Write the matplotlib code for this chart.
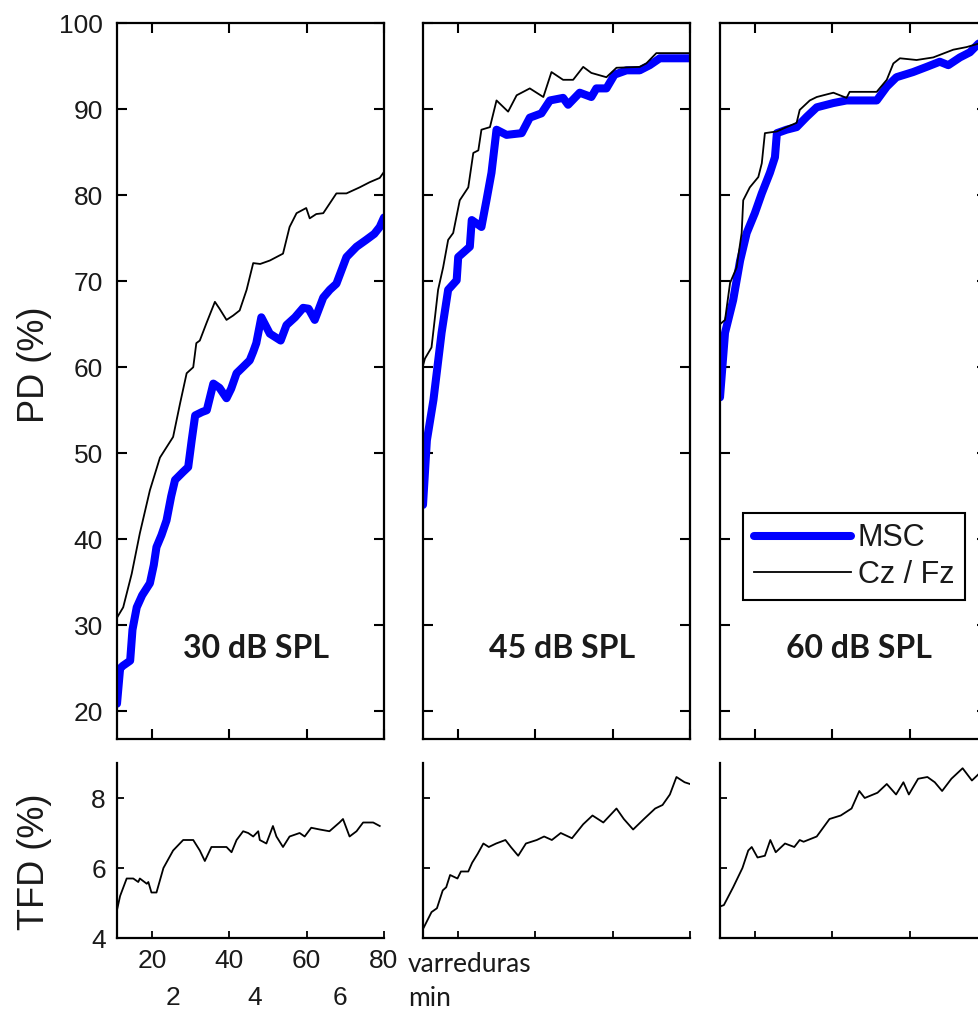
import matplotlib
matplotlib.use("Agg")
import matplotlib.pyplot as plt
from matplotlib.lines import Line2D
from matplotlib.transforms import blended_transform_factory

# ---------------- data ----------------
levels = ["30 dB SPL", "45 dB SPL", "60 dB SPL"]
series_labels = ["MSC", "Cz / Fz"]

# Detection probability (%) vs. number of sweeps
msc_x_30 = [11, 11.8, 12.5, 14.4, 15.0, 16.1, 17.5, 19.5, 20.5, 21.2, 22.5, 23.8, 25.0, 26.0, 28.0,
            29.4, 30.3, 31.2, 33.0, 34.2, 35.9, 37.5, 39.3, 40.5, 41.9, 43.5, 45.3, 46.2, 47.0, 48.3,
            50.5, 53.3, 54.8, 57.0, 59.1, 60.5, 62.1, 64.3, 66.0, 67.7, 70.3, 72.9, 75.4, 77.5, 78.9, 80]
msc_y_30 = [20.9, 25.0, 25.3, 25.9, 29.5, 32.1, 33.5, 34.9, 37.0, 39.1, 40.5, 42.2, 45.0, 46.9, 47.8,
            48.4, 51.5, 54.4, 54.8, 55.0, 58.1, 57.6, 56.4, 57.5, 59.3, 60.0, 60.8, 61.8, 62.8, 65.8,
            63.9, 63.1, 64.9, 65.8, 66.9, 66.8, 65.5, 68.1, 69.0, 69.7, 72.8, 74.0, 74.8, 75.5, 76.3, 77.4]
cz_x_30 = [11, 12.6, 14.8, 16.9, 19.5, 22.1, 25.5, 27.3, 29.0, 30.7, 31.5, 32.4, 34.1, 36.3, 37.5,
           39.3, 41.0, 42.7, 44.5, 46.2, 48.0, 50.5, 53.9, 55.6, 57.4, 59.9, 60.8, 62.5, 64.3, 67.7,
           70.3, 73.7, 76.3, 78.9, 80]
cz_y_30 = [30.9, 32.1, 36.0, 40.7, 45.7, 49.5, 51.9, 55.8, 59.3, 60.0, 62.8, 63.1, 65.1, 67.6, 66.8,
           65.5, 66.0, 66.6, 69.0, 72.1, 72.0, 72.4, 73.2, 76.3, 77.9, 78.5, 77.3, 77.8, 77.9, 80.2,
           80.2, 80.9, 81.5, 82.0, 82.7]

msc_x_45 = [11, 12.0, 13.7, 15.8, 17.5, 19.7, 20.1, 23.1, 23.6, 26.1, 27.4, 28.7, 30.0, 32.6, 36.5,
            38.6, 41.6, 43.8, 47.2, 48.5, 51.5, 54.5, 55.8, 58.4, 60.5, 63.6, 67.0, 69.6, 72.2, 80]
msc_y_45 = [44.0, 51.5, 56.2, 64.0, 69.0, 70.1, 72.8, 74.0, 77.1, 76.3, 79.4, 82.6, 87.6, 87.0, 87.2,
            89.0, 89.5, 91.0, 91.3, 90.5, 91.9, 91.4, 92.4, 92.4, 94.0, 94.5, 94.5, 95.1, 95.9, 95.9]
cz_x_45 = [11, 11.5, 13.2, 14.9, 16.2, 17.5, 18.8, 20.5, 22.7, 24.0, 25.3, 26.1, 28.3, 30.0, 33.0,
           35.2, 38.6, 42.1, 44.2, 47.2, 49.8, 52.4, 54.5, 58.4, 61.0, 67.0, 68.7, 71.3, 80]
cz_y_45 = [60.2, 61.0, 62.3, 69.0, 71.6, 74.8, 75.6, 79.4, 80.9, 84.9, 85.2, 87.6, 87.9, 91.0, 89.7,
           91.6, 92.4, 91.4, 94.3, 93.4, 93.4, 94.9, 94.2, 93.7, 94.8, 94.9, 95.3, 96.5, 96.5]

msc_x_60 = [11, 12.3, 14.4, 16.2, 17.9, 20.0, 21.8, 23.9, 25.2, 25.7, 28.2, 30.8, 33.4, 36.0, 40.3,
            43.7, 51.5, 54.1, 56.6, 60.9, 64.4, 67.8, 70.0, 73.0, 75.6, 77.8, 80]
msc_y_60 = [56.5, 64.0, 67.8, 72.4, 75.6, 77.9, 80.2, 82.6, 84.4, 87.2, 87.6, 87.9, 89.1, 90.2, 90.7,
            91.0, 91.0, 92.6, 93.7, 94.3, 94.9, 95.5, 95.1, 96.0, 96.6, 97.6, 98.0]
cz_x_60 = [11, 12.3, 13.6, 15.3, 16.6, 17.0, 18.7, 20.9, 21.8, 22.6, 25.7, 28.2, 30.8, 31.6, 34.2,
           36.0, 37.7, 40.3, 43.7, 44.5, 51.5, 54.1, 55.8, 57.5, 61.8, 66.1, 71.3, 74.7, 77.8, 80]
cz_y_60 = [65.0, 65.5, 69.8, 71.6, 75.6, 79.4, 80.9, 82.1, 83.7, 87.2, 87.4, 87.9, 88.4, 89.9, 91.0,
           91.4, 91.6, 91.9, 91.3, 92.0, 92.0, 93.4, 95.3, 95.9, 95.7, 96.0, 96.9, 97.2, 97.6, 98.0]

# False detection rate (%) vs. number of sweeps
tfd_x_30 = [11, 11.8, 13.5, 15.2, 16.5, 16.9, 18.7, 19.1, 19.9, 21.2, 23.0, 25.5, 28.1, 30.7, 32.4,
            33.7, 35.4, 39.3, 40.6, 41.9, 43.6, 44.9, 46.2, 47.5, 47.9, 49.6, 51.3, 52.2, 53.9, 55.6,
            58.2, 59.5, 61.2, 63.4, 65.9, 68.5, 69.4, 71.1, 72.9, 74.6, 77.2, 78.9]
tfd_y_30 = [4.8, 5.2, 5.7, 5.7, 5.6, 5.7, 5.55, 5.6, 5.3, 5.3, 6.0, 6.5, 6.8, 6.8, 6.5,
            6.2, 6.6, 6.6, 6.45, 6.8, 7.05, 7.0, 6.9, 7.05, 6.8, 6.7, 7.2, 6.9, 6.6, 6.9,
            7.0, 6.9, 7.15, 7.1, 7.05, 7.3, 7.4, 6.9, 7.05, 7.3, 7.3, 7.2]
tfd_x_45 = [11.2, 13.2, 14.6, 16.1, 17.0, 18.0, 19.9, 20.8, 22.7, 23.7, 25.1, 26.6, 28.0, 29.9, 32.3,
            33.7, 35.6, 37.6, 40.4, 42.3, 44.3, 46.6, 49.5, 52.4, 54.8, 57.6, 61.0, 62.9, 65.3, 68.1,
            71.0, 72.9, 74.8, 76.5, 78.6, 80]
tfd_y_45 = [4.3, 4.74, 4.85, 5.36, 5.45, 5.8, 5.7, 5.9, 5.9, 6.15, 6.4, 6.7, 6.6, 6.7, 6.8,
            6.6, 6.35, 6.7, 6.8, 6.9, 6.8, 7.0, 6.85, 7.25, 7.5, 7.3, 7.7, 7.4, 7.1, 7.4,
            7.7, 7.8, 8.1, 8.6, 8.45, 8.4]
tfd_x_60 = [11, 12.0, 14.4, 16.8, 18.3, 19.2, 20.7, 22.6, 24.0, 25.4, 27.8, 30.2, 31.6, 32.6, 36.0,
            39.3, 42.2, 45.0, 47.0, 48.4, 51.7, 54.1, 56.5, 58.4, 59.8, 62.2, 64.6, 66.5, 68.4, 70.8,
            73.7, 76.1, 78.0, 80]
tfd_y_60 = [4.9, 4.94, 5.45, 6.0, 6.5, 6.6, 6.3, 6.35, 6.8, 6.45, 6.7, 6.6, 6.8, 6.75, 6.9,
            7.4, 7.5, 7.7, 8.2, 8.0, 8.15, 8.4, 8.1, 8.45, 8.1, 8.55, 8.6, 8.45, 8.2, 8.55,
            8.85, 8.5, 8.7, 8.6]

pd_ticks = [20, 30, 40, 50, 60, 70, 80, 90, 100]
tfd_ticks = [4, 6, 8]
sweep_ticks = [20, 40, 60, 80]
minute_labels = ["2", "4", "6"]
minute_ticks_sweeps = [25.5, 46.6, 68.5]

msc_series = [(msc_x_30, msc_y_30), (msc_x_45, msc_y_45), (msc_x_60, msc_y_60)]
cz_series = [(cz_x_30, cz_y_30), (cz_x_45, cz_y_45), (cz_x_60, cz_y_60)]
tfd_series = [(tfd_x_30, tfd_y_30), (tfd_x_45, tfd_y_45), (tfd_x_60, tfd_y_60)]

# ---------------- figure ----------------
W, H = 979, 1016
fig = plt.figure(figsize=(W / 100, H / 100), dpi=100)

ARIAL = "Liberation Sans"
HUMANIST = "Lato"
TICK_FS = 19
TEXT_COLOR = "#1a1a1a"

lefts = [117, 423, 720]
panel_w = 267

top_axes = []
bot_axes = []
for i, left in enumerate(lefts):
    ax = fig.add_axes([left / W, 1 - 739 / H, panel_w / W, 716 / H])
    bx = fig.add_axes([left / W, 1 - 938 / H, panel_w / W, 175 / H])
    top_axes.append(ax)
    bot_axes.append(bx)

for i, ax in enumerate(top_axes):
    mx, my = msc_series[i]
    cx, cy = cz_series[i]
    ax.plot(mx, my, color="#0000ff", lw=5.8, solid_joinstyle="round", solid_capstyle="round",
            label=series_labels[0], zorder=2)
    ax.plot(cx, cy, color="black", lw=1.3, label=series_labels[1], zorder=3)
    ax.set_xlim(11, 80)
    ax.set_ylim(16.8, 100)
    ax.set_xticks(sweep_ticks)
    ax.set_yticks(pd_ticks)
    ax.tick_params(direction="in", length=7, width=1.5, top=True, right=True,
                   labelbottom=False, labelleft=(i == 0), labelsize=TICK_FS, pad=10,
                   labelcolor=TEXT_COLOR)
    for s in ax.spines.values():
        s.set_linewidth(1.6)
    for lab in ax.get_yticklabels():
        lab.set_fontfamily(ARIAL)
    ax.text(0.52, 0.127, levels[i], transform=ax.transAxes, ha="center", va="center",
            fontsize=23, fontweight="bold", fontfamily=HUMANIST, color=TEXT_COLOR)

for i, bx in enumerate(bot_axes):
    tx, ty = tfd_series[i]
    bx.plot(tx, ty, color="black", lw=1.3)
    bx.set_xlim(11, 80)
    bx.set_ylim(4, 9)
    bx.set_xticks(sweep_ticks)
    bx.set_yticks(tfd_ticks)
    bx.spines["top"].set_visible(False)
    bx.spines["right"].set_visible(False)
    for s in ("left", "bottom"):
        bx.spines[s].set_linewidth(1.6)
    bx.tick_params(direction="in", length=5, width=1.3,
                   labelbottom=(i == 0), labelleft=(i == 0), labelsize=TICK_FS, pad=8,
                   labelcolor=TEXT_COLOR)
    for lab in bx.get_xticklabels() + bx.get_yticklabels():
        lab.set_fontfamily(ARIAL)

# second row of x labels: acquisition time in minutes
b0 = bot_axes[0]
trans = blended_transform_factory(b0.transData, fig.transFigure)
for pos, lab in zip(minute_ticks_sweeps, minute_labels):
    b0.text(pos, 1 - 998 / H, lab, transform=trans, ha="center", va="center",
            fontsize=TICK_FS, fontfamily=ARIAL, color=TEXT_COLOR)
fig.text(408 / W, 1 - 965 / H, "varreduras", ha="left", va="center",
         fontsize=19, fontfamily=HUMANIST, color=TEXT_COLOR)
fig.text(408 / W, 1 - 998 / H, "min", ha="left", va="center",
         fontsize=19, fontfamily=HUMANIST, color=TEXT_COLOR)

# axis titles
fig.text(35 / W, 1 - 365 / H, "PD (%)", rotation=90, ha="center", va="center",
         fontsize=26, fontfamily=ARIAL, color=TEXT_COLOR)
fig.text(35 / W, 1 - 862 / H, "TFD (%)", rotation=90, ha="center", va="center",
         fontsize=26, fontfamily=ARIAL, color=TEXT_COLOR)

# legend in the right-hand panel
handles = [Line2D([], [], color="#0000ff", lw=5.8, solid_capstyle="round"),
           Line2D([], [], color="black", lw=1.3)]
leg = top_axes[2].legend(handles, series_labels, loc="upper left",
                         bbox_to_anchor=(0.086, 0.316), frameon=True, fancybox=False,
                         framealpha=1, edgecolor="black", handlelength=3.2,
                         handletextpad=0.2, labelspacing=0.2, borderpad=0.35,
                         borderaxespad=0.0, prop={"family": ARIAL, "size": 22})
leg.get_frame().set_linewidth(1.5)
for t in leg.get_texts():
    t.set_color(TEXT_COLOR)

fig.savefig("out.png", dpi=100)
